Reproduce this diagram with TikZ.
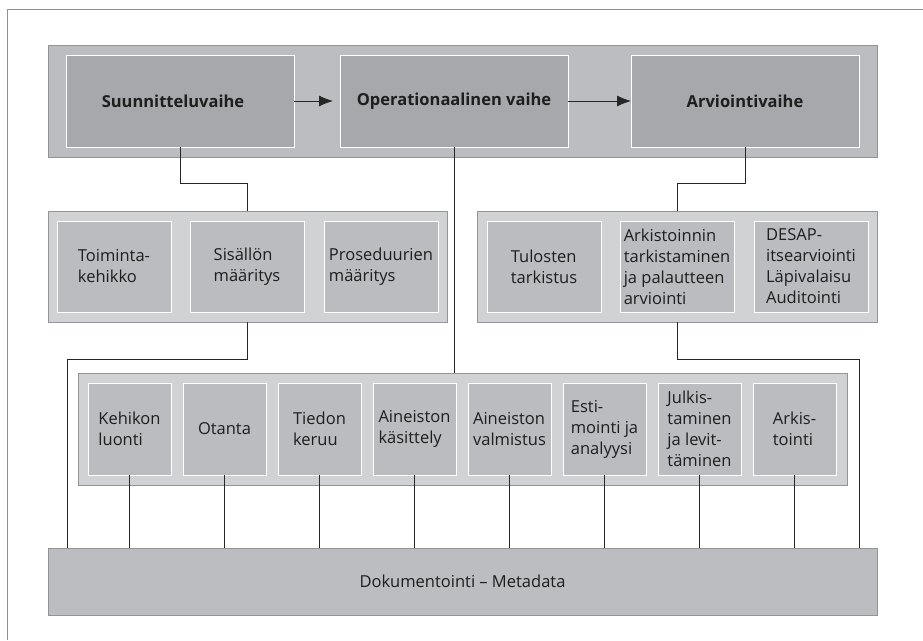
\documentclass[tikz,border=0pt]{standalone}
\usepackage{fontspec}
\setmainfont{Open Sans}
\usetikzlibrary{positioning,arrows.meta}
\definecolor{framegray}{HTML}{8F9093}
\definecolor{edgegray}{HTML}{939497}
\definecolor{bandgray}{HTML}{BCBDC1}
\definecolor{lightband}{HTML}{D1D2D4}
\definecolor{phasegray}{HTML}{A7A8AB}
\definecolor{boxgray}{HTML}{BBBCC0}
\definecolor{textgray}{HTML}{1E1E1E}

\begin{document}
\begin{tikzpicture}[x=1pt,y=-1pt,
        every node/.style={inner sep=0pt,outer sep=0pt,text=textgray,font=\fontsize{16.5}{21}\selectfont},
        band/.style={draw=edgegray,line width=1pt,anchor=north west},
        phasebox/.style={fill=phasegray,draw=white,line width=1pt,anchor=north west,
            minimum width=228pt,minimum height=92pt,font=\fontsize{16.5}{21}\selectfont\bfseries},
        stepbox/.style={fill=boxgray,draw=white,line width=1pt,anchor=north west,
            minimum width=114pt,minimum height=91pt,align=left},
        taskbox/.style={stepbox,minimum width=83pt,minimum height=92pt},
        link/.style={draw=black!85,line width=0.8pt}]
    \useasboundingbox (0,0) rectangle (923,640);
    \draw[framegray,line width=1pt] (923,9) -| (7,640);

    \node[band,fill=bandgray,minimum width=829pt,minimum height=112pt] (phaseband) at (48,45) {};
    \node[phasebox] (suu) at (66,55) {Suunnitteluvaihe\hspace*{14pt}};
    \node[phasebox] (ope) at (340,55) {Operationaalinen vaihe};
    \node[phasebox] (arv) at (631,55) {Arviointivaihe};
    \draw[link,-{Latex[length=14pt,width=11pt]},shorten >=7pt] (suu) -- (ope);
    \draw[link,-{Latex[length=14pt,width=11pt]}] (ope) -- (arv);

    \node[band,fill=lightband,minimum width=399pt,minimum height=111pt] (planband) at (48,211) {};
    \node[stepbox] (toi) at (57,221) {Toiminta-\\kehikko};
    \node[stepbox] (sis) at (190,221) {Sisällön\\määritys};
    \node[stepbox] (pro) at (324,221) {Proseduurien\\määritys};

    \node[band,fill=lightband,minimum width=400pt,minimum height=111pt] (evalband) at (477,211) {};
    \node[stepbox] (tul) at (487,221) {Tulosten\\tarkistus};
    \node[stepbox] (ark) at (620,221) {Arkistoinnin\\tarkistaminen\\ja palautteen\\arviointi};
    \node[stepbox] (des) at (754,221) {DESAP-\\itsearviointi\\Läpivalaisu\\Auditointi};

    \node[band,fill=lightband,minimum width=769pt,minimum height=112pt] (workband) at (78,373) {};
    \node[taskbox] (t1) at (88,383) {Kehikon\\luonti};
    \node[taskbox,right=12pt of t1] (t2) {Otanta};
    \node[taskbox,right=12pt of t2] (t3) {Tiedon\\keruu};
    \node[taskbox,right=12pt of t3] (t4) {Aineiston\\käsittely};
    \node[taskbox,right=12pt of t4] (t5) {Aineiston\\valmistus};
    \node[taskbox,right=12pt of t5] (t6) {Esti-\\mointi ja\\analyysi};
    \node[taskbox,right=12pt of t6] (t7) {Julkis-\\taminen\\ja levit-\\täminen};
    \node[taskbox,right=12pt of t7] (t8) {Arkis-\\tointi};

    \node[band,fill=bandgray,minimum width=829pt,minimum height=67pt] (doc) at (48,548) {};
    \node at (doc.center) {Dokumentointi – Metadata};

    \draw[link] (suu.south) -- ++(0,36) -| (planband.north);
    \draw[link] (arv.south) -- ++(0,36) -| (evalband.north);
    \draw[link] (ope.south) -- (workband.north -| ope.south);
    \draw[link] (planband.south) -- ++(0,37) -| ([xshift=19pt]doc.north west);
    \draw[link] (evalband.south) -- ++(0,37) -| ([xshift=-18pt]doc.north east);
    \draw[link] (t1.south) -- (doc.north -| t1.south);
    \draw[link] (t2.south) -- (doc.north -| t2.south);
    \draw[link] (t3.south) -- (doc.north -| t3.south);
    \draw[link] (t4.south) -- (doc.north -| t4.south);
    \draw[link] (t5.south) -- (doc.north -| t5.south);
    \draw[link] (t6.south) -- (doc.north -| t6.south);
    \draw[link] (t7.south) -- (doc.north -| t7.south);
    \draw[link] (t8.south) -- (doc.north -| t8.south);
\end{tikzpicture}
\end{document}
